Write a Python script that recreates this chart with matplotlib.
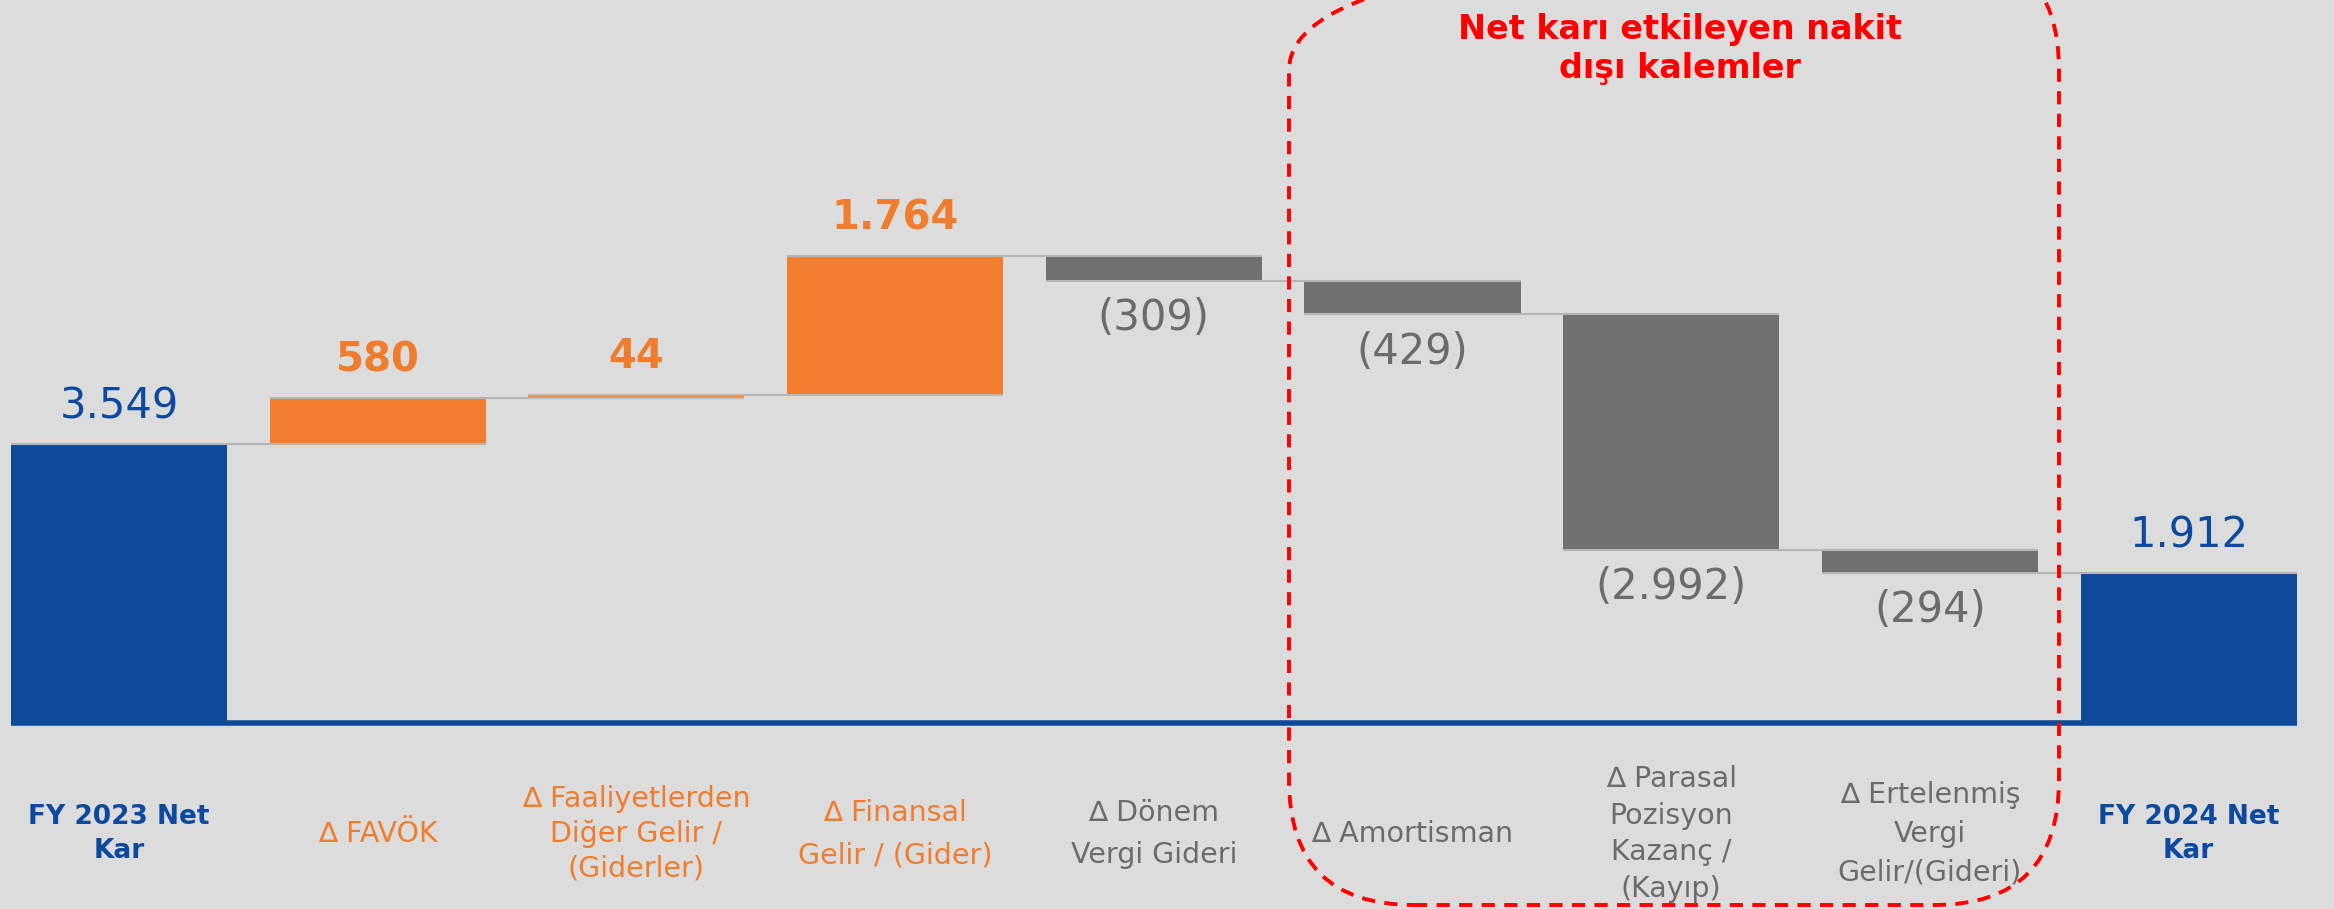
import numpy as np
import matplotlib
matplotlib.use('Agg')
import matplotlib.pyplot as plt
import matplotlib.transforms as mtransforms
from matplotlib.patches import FancyBboxPatch

### Data
categories = ['FY 2023 Net\nKar', '∆ FAVÖK', '∆ Faaliyetlerden\nDiğer Gelir /\n(Giderler)',
              '∆ Finansal\nGelir / (Gider)', '∆ Dönem\nVergi Gideri', '∆ Amortisman',
              '∆ Parasal\nPozisyon\nKazanç /\n(Kayıp)', '∆ Ertelenmiş\nVergi\nGelir/(Gideri)',
              'FY 2024 Net\nKar']
values = [3549, 580, 44, 1764, -309, -429, -2992, -294, 1912]
kinds = ['total', 'up', 'up', 'up', 'down', 'down', 'down', 'down', 'total']
value_labels = ['3.549', '580', '44', '1.764', '(309)', '(429)', '(2.992)', '(294)', '1.912']
box_title = 'Net karı etkileyen nakit\ndışı kalemler'

### Style
W, H = 2334, 909
bg = '#dcdcdc'
colors = {'total': '#0f4a9a', 'up': '#f07e2e', 'down': '#707070'}
text_colors = {'total': '#0d4a9e', 'up': '#f07d2d', 'down': '#6b6b6b'}
value_weight = {'total': 'normal', 'up': 'bold', 'down': 'normal'}
line_grey = '#b5b5b5'
bar_w = 0.835
cat_spacing = [1.35, 1.3, 1.3, 1.65, 1.65, 1.3, 1.4, 1.5, 1.35]

### Waterfall geometry
bottoms, heights, levels = [], [], []
running = 0
for v, k in zip(values, kinds):
    if k == 'total':
        bottoms.append(0)
        heights.append(v)
        running = v
    else:
        bottoms.append(running)
        heights.append(v)
        running += v
    levels.append(running)

### Graph
fig = plt.figure(figsize=(W / 100, H / 100), dpi=100, facecolor=bg)
ax = fig.add_axes([0, 0, 1, 1], facecolor=bg)
ax.set_xlim(-0.46, 8.562)
ax.set_ylim(-2366, 9197)
ax.axis('off')

x = np.arange(len(values))
ax.bar(x, heights, bottom=bottoms, width=bar_w,
       color=[colors[k] for k in kinds], zorder=2)

# connector lines: from left edge of bar i to right edge of bar i+1
for i in range(len(values) - 1):
    ax.hlines(levels[i], i - bar_w / 2, i + 1 + bar_w / 2,
              color=line_grey, linewidth=1.5, zorder=3)

# blue base line
ax.hlines(0, -bar_w / 2, len(values) - 1 + bar_w / 2,
          color=colors['total'], linewidth=4, zorder=3)

# value labels
for i, (b, h, k, lab) in enumerate(zip(bottoms, heights, kinds, value_labels)):
    if k == 'down':
        y, dy = min(b, b + h), -27
    else:
        y, dy = max(b, b + h), 27
    ax.annotate(lab, (i, y), xytext=(0, dy), textcoords='offset points',
                ha='center', va='center', fontsize=30 if k != 'up' else 29,
                color=text_colors[k], fontweight=value_weight[k])

# category labels
trans = mtransforms.blended_transform_factory(ax.transData, fig.transFigure)
for i, (cat, k) in enumerate(zip(categories, kinds)):
    ax.text(i, 75 / H, cat, transform=trans, ha='center', va='center',
            fontsize=19 if k == 'total' else 20.5,
            fontweight='bold' if k == 'total' else 'normal',
            color=text_colors[k], linespacing=cat_spacing[i])

# dashed box in pixel coordinates
px = mtransforms.Affine2D().scale(1 / W, 1 / H) + fig.transFigure
box = FancyBboxPatch((1289, H - 905), 2059 - 1289, 960,
                     boxstyle='round,pad=0,rounding_size=125',
                     transform=px, fill=False, edgecolor='#ff0000',
                     linewidth=2.8, linestyle=(0, (3.4, 2.4)), zorder=4)
fig.patches.append(box)

fig.text(1680 / W, (H - 49) / H, box_title, ha='center', va='center',
         fontsize=24, fontweight='bold', color='#ff0000', linespacing=1.25)

fig.savefig('out.png', dpi=100, facecolor=bg)
